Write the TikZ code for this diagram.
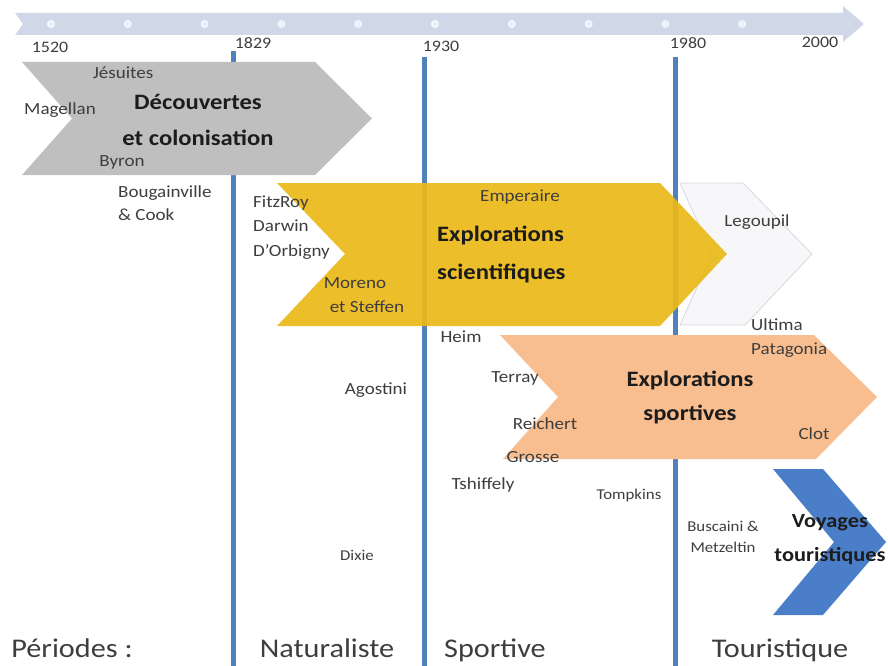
\documentclass[tikz,border=0pt]{standalone}
\usepackage{fontspec}
\setmainfont{Carlito}[FakeStretch=1.12]
\definecolor{bandc}{RGB}{208,216,232}
\definecolor{dotc}{RGB}{60,85,125}
\definecolor{ringc}{RGB}{240,243,249}
\definecolor{linec}{RGB}{79,129,189}
\definecolor{greyc}{RGB}{191,191,191}
\definecolor{yellc}{RGB}{234,185,26}
\definecolor{whitc}{RGB}{246,246,248}
\definecolor{whitd}{RGB}{215,215,222}
\definecolor{orac}{RGB}{249,190,143}
\definecolor{bluec}{RGB}{74,126,200}
\definecolor{labelc}{RGB}{62,62,62}
\definecolor{boldc}{RGB}{28,28,28}
\begin{document}
\begin{tikzpicture}[x=1pt,y=-1pt,
  lbl/.style={inner sep=0pt,font=\fontsize{17}{24.5}\selectfont,text=labelc},
  slbl/.style={inner sep=0pt,font=\fontsize{15}{21}\selectfont,text=labelc},
  ttl/.style={inner sep=0pt,font=\fontsize{22}{36}\selectfont\bfseries,text=boldc},
  yearlbl/.style={inner sep=0pt,font=\fontsize{16}{18}\selectfont,text=labelc},
  perlbl/.style={inner sep=0pt,anchor=base,font=\fontsize{27}{30}\selectfont,text=labelc},
  tdot/.style={circle,inner sep=0pt,minimum size=4.5pt,fill=dotc,draw=ringc,line width=3.5pt},
  vline/.style={draw=linec,line width=5pt}]
\useasboundingbox (0,0) rectangle (888,666);
% timeline band
\fill[bandc] (15,13) -- (843,13) -- (843,6) -- (864,24) -- (843,42) -- (843,35) -- (15,35) -- (23,24) -- cycle;
\foreach \i in {0,...,9} \node[tdot] (d\i) at ({51+\i*76.8},24) {};
% years
\node[yearlbl] (y1520) at (50,47) {1520};
\node[yearlbl] (y1829) at (253,43) {1829};
\node[yearlbl] (y1930) at (441,46) {1930};
\node[yearlbl] (y1980) at (688,43) {1980};
\node[yearlbl] (y2000) at (820,42) {2000};
% vertical period lines
\coordinate (l1t) at (233,51); \coordinate (l1b) at (233,666);
\coordinate (l2t) at (424,57); \coordinate (l2b) at (424,666);
\coordinate (l3t) at (675,57); \coordinate (l3b) at (675,666);
\draw[vline] (l1t) -- (l1b);
\draw[vline] (l2t) -- (l2b);
\draw[vline] (l3t) -- (l3b);
% chevrons
\fill[greyc] (22,62) -- (315,62) -- (372,118.5) -- (315,175) -- (22,175) -- (72,118.5) -- cycle;
\filldraw[fill=whitc,draw=whitd,line width=0.8pt,fill opacity=0.85] (680,183) -- (743,183) -- (812,254) -- (745,325) -- (680,325) -- (712,254) -- cycle;
\fill[yellc,opacity=0.93] (277,183) -- (660,183) -- (727,254) -- (660,326) -- (277,326) -- (345,254) -- cycle;
\fill[orac] (500,335) -- (814,335) -- (877,397) -- (816,459) -- (503,459) -- (558,397) -- cycle;
\fill[bluec] (773,469) -- (823,469) -- (886,542) -- (823,615) -- (773,615) -- (834,542) -- cycle;
% labels: discoveries
\node[lbl] (jes) at (123,73) {Jésuites};
\node[lbl] (mag) at (60,110) {Magellan};
\node[ttl,align=center] (dec) at (198,120) {Découvertes\\et colonisation};
\node[lbl] (byr) at (122,162) {Byron};
\node[lbl,anchor=west,align=left,font=\fontsize{17}{23}\selectfont] (boug) at (118,203.5) {Bougainville\\\& Cook};
% scientific
\node[lbl,anchor=west,align=left] (fitz) at (253,227.5) {FitzRoy\\Darwin\\D’Orbigny};
\node[lbl] (mor) at (355,283) {Moreno};
\node[lbl] (ste) at (367,307) {et Steffen};
\node[lbl] (emp) at (520,197) {Emperaire};
\node[ttl,anchor=west,align=left,font=\fontsize{22}{38}\selectfont\bfseries] (exs) at (437,254) {Explorations\\scientifiques};
\node[lbl] (leg) at (757,222) {Legoupil};
% sportive
\node[lbl] (heim) at (461,337) {Heim};
\node[lbl,anchor=west,align=left] (ult) at (751,338) {Ultima\\Patagonia};
\node[lbl] (ago) at (376,390) {Agostini};
\node[lbl] (ter) at (515,378) {Terray};
\node[ttl,align=center,font=\fontsize{22}{34}\selectfont\bfseries] (exsp) at (690,397) {Explorations\\sportives};
\node[lbl] (rei) at (545,424) {Reichert};
\node[lbl] (clot) at (814,434) {Clot};
\node[lbl] (gro) at (533,457) {Grosse};
\node[lbl] (tsh) at (483,485) {Tshiffely};
\node[slbl] (tom) at (629,495) {Tompkins};
\node[slbl,align=center] (bus) at (723,537) {Buscaini \&\\Metzeltin};
\node[ttl,align=center,font=\fontsize{20}{34}\selectfont\bfseries] (voy) at (830,540) {Voyages\\touristiques};
\node[slbl] (dix) at (357,555) {Dixie};
% periods
\node[perlbl] (per) at (72,657) {Périodes :};
\node[perlbl] (nat) at (327,657) {Naturaliste};
\node[perlbl] (spo) at (495,657) {Sportive};
\node[perlbl] (tou) at (780,657) {Touristique};
\end{tikzpicture}
\end{document}
